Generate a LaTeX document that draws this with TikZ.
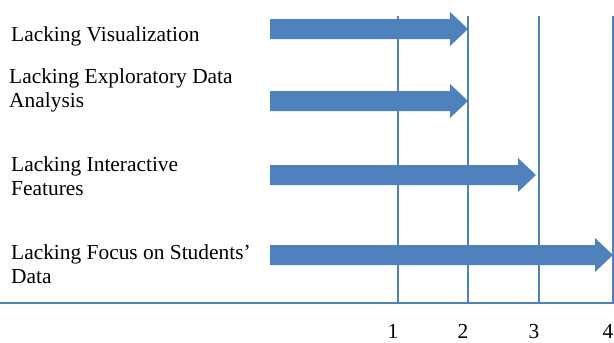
\documentclass[tikz,border=0pt]{standalone}
\usepackage{fontspec}
\setmainfont{Liberation Serif}
\definecolor{barblue}{RGB}{79,129,189}
\begin{document}
\begin{tikzpicture}[
        x=1pt, y=-1pt,
        label/.style={anchor=base west, inner sep=0pt, align=left, font=\fontsize{21.4}{24}\selectfont},
        tick/.style={anchor=base, inner sep=0pt, font=\fontsize{21.4}{24}\selectfont},
        grid/.style={draw=barblue, line width=1.6pt},
        bar/.style={fill=barblue, draw=none}
    ]
        \useasboundingbox (0,0) rectangle (614,343);

        % Labels (anchored at the baseline of their last line)
        \node[label] (vis) at (11,41) {Lacking Visualization};
        \node[label] (eda) at (9,107) {Lacking Exploratory Data\\Analysis};
        \node[label] (inter) at (11,195) {Lacking Interactive\\Features};
        \node[label] (focus) at (11,283) {Lacking Focus on Students'\\Data};

        % Axis and grid lines
        \coordinate (axisL) at (0,303);
        \coordinate (axisR) at (614,303);
        \draw[grid, line width=1.2pt] (axisL) -- (axisR);
        \foreach \x/\n in {398/1, 468/2, 539/3, 613/4} {
            \coordinate (top\n) at (\x,16);
            \coordinate (bot\n) at (\x,303);
            \draw[grid] (top\n) -- (bot\n);
            \node[tick] (t\n) at (\x-5,338) {\n};
        }

        % Arrows
        \foreach \y/\tip in {29/468, 101/468, 175/536, 255/613} {
            \fill[bar] (270,\y-10) -- (\tip-18,\y-10) -- (\tip-18,\y-17) -- (\tip,\y)
                -- (\tip-18,\y+17) -- (\tip-18,\y+10) -- (270,\y+10) -- cycle;
        }
    \end{tikzpicture}
\end{document}
